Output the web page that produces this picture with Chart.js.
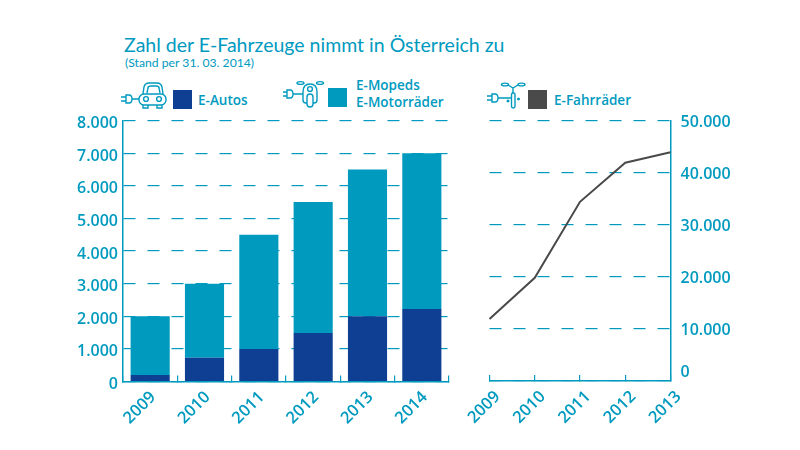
<!DOCTYPE html>
<html>
<head>
<meta charset="utf-8">
<script src="https://cdn.jsdelivr.net/npm/chart.js@4"></script>
<style>
  html, body { margin: 0; padding: 0; background: #fff; }
  body { position: relative; width: 800px; height: 450px; overflow: hidden; font-family: "Open Sans", sans-serif; color: #009abf; }
  canvas { position: absolute; top: 0; }
  .txt { position: absolute; white-space: nowrap; }
  .swatch { position: absolute; width: 19px; height: 18.5px; }
  svg { position: absolute; left: 0; top: 0; fill: none; stroke: #009abf; stroke-width: 1.4; }
</style>
</head>
<body>
<div class="txt" style="left:124px;top:33px;font-family:Lato,sans-serif;font-size:19.5px;">Zahl der E-Fahrzeuge nimmt in Österreich zu</div>
<div class="txt" style="left:125px;top:55px;font-family:Lato,sans-serif;font-size:12.2px;">(Stand per 31. 03. 2014)</div>

<svg width="800" height="130">
  <!-- car -->
  <path d="M121 97h5M121 101h5M126 95h3q3 0 3 4t-3 4h-3zM132 99h7"/>
  <rect x="139" y="94" width="27" height="11" rx="5"/>
  <path d="M143 94l1-7q1-4 5-4h8q4 0 5 4l1 7M147 93l1-5q0-2 3-2h5q3 0 3 2l1 5"/>
  <circle cx="146" cy="99" r="2.4"/><circle cx="159" cy="99" r="2.4"/>
  <path d="M143 105v3h5v-3M157 105v3h5v-3"/>
  <!-- moped -->
  <path d="M283 92h4M283 96h4M287 90h3q3 0 3 4t-3 4h-3zM293 94h10"/>
  <path d="M303 92q0-8 7-8t7 8v8q0 3-3 3h-8q-3 0-3-3z"/>
  <circle cx="310" cy="89" r="2.4"/>
  <rect x="307" y="94" width="6" height="13" rx="3" fill="#fff"/>
  <ellipse cx="300.5" cy="83" rx="3.5" ry="1.4"/><ellipse cx="320" cy="83" rx="3.5" ry="1.4"/>
  <!-- bicycle -->
  <path d="M487 96h5M487 100h5M492 94h3q3 0 3 4t-3 4h-3zM498 98h14"/>
  <ellipse cx="505" cy="84.5" rx="3.5" ry="1.4"/><ellipse cx="521.5" cy="84.5" rx="3.5" ry="1.4"/>
  <path d="M508 85q5 3 5 3t5-3M513 88v5"/>
  <rect x="511.5" y="93" width="3.5" height="15" rx="1.7"/>
  <circle cx="508" cy="101" r="0.8"/><circle cx="518.5" cy="99" r="0.8"/>
</svg>

<div class="swatch" style="left:173px;top:90px;background:#0f3f92"></div>
<div class="txt" style="left:198px;top:91px;font-size:13.5px;font-weight:600;">E-Autos</div>
<div class="swatch" style="left:328px;top:88px;background:#009abf"></div>
<div class="txt" style="left:356px;top:77px;font-size:13.5px;font-weight:600;line-height:17px;">E-Mopeds<br>E-Motorräder</div>
<div class="swatch" style="left:528px;top:90px;background:#4a4a4a"></div>
<div class="txt" style="left:554px;top:91px;font-size:13.5px;font-weight:600;">E-Fahrräder</div>

<canvas id="bars" style="left:0;width:470px;height:450px" width="470" height="450"></canvas>
<canvas id="line" style="left:450px;width:350px;height:450px" width="350" height="450"></canvas>

<script>
const barYears = ['2009', '2010', '2011', '2012', '2013', '2014'];
const eAutos = [200, 725, 1000, 1490, 2000, 2220];
const eMopeds = [1800, 2275, 3500, 4010, 4500, 4780];
const lineYears = ['2009', '2010', '2011', '2012', '2013'];
const eFahrraeder = [11900, 19800, 34400, 41900, 43900];

const teal = '#009abf';
const navy = '#0f3f92';
const grey = '#4a4a4a';
const yFont = { family: '"Open Sans", sans-serif', size: 16, weight: '600' };
const xFont = { family: '"Open Sans", sans-serif', size: 16.5, weight: '600' };

const deNumber = v => String(v).replace(/\B(?=(\d{3})+$)/g, '.');

// x axis keeps exact plot edges, rotated labels may run past them
function fixHeight(h) {
    return s => { s.height = h; s.paddingLeft = 0; s.paddingRight = 0; };
}

new Chart(document.getElementById('bars'), {
    type: 'bar',
    data: {
        labels: barYears,
        datasets: [
            { label: 'E-Autos', data: eAutos, backgroundColor: navy, stack: 'a' },
            { label: 'E-Mopeds E-Motorräder', data: eMopeds, backgroundColor: teal, stack: 'a' }
        ]
    },
    options: {
        responsive: false,
        animation: false,
        layout: { padding: { top: 120.5, right: 21, left: 0, bottom: 0 } },
        plugins: { legend: { display: false }, tooltip: { enabled: false } },
        datasets: { bar: { barPercentage: 0.72, categoryPercentage: 1 } },
        scales: {
            x: {
                stacked: true,
                afterFit: fixHeight(68.5),
                border: { color: teal, width: 1.5 },
                grid: { offset: true, drawOnChartArea: false, color: teal, lineWidth: 1.2, tickLength: -6 },
                ticks: { color: teal, font: xFont, minRotation: 45, maxRotation: 45, padding: 12, labelOffset: 3 }
            },
            y: {
                stacked: true,
                min: 0,
                max: 8000,
                afterFit: s => { s.width = 123; },
                border: { color: teal, width: 1.5, dash: [12, 12] },
                grid: { color: teal, lineWidth: 1.2, drawTicks: false },
                ticks: { color: teal, font: yFont, stepSize: 1000, padding: 5, labelOffset: 3, callback: v => deNumber(v) }
            }
        }
    }
});

new Chart(document.getElementById('line'), {
    type: 'line',
    data: {
        labels: lineYears,
        datasets: [{ label: 'E-Fahrräder', data: eFahrraeder, borderColor: grey, borderWidth: 2, pointRadius: 0, tension: 0 }]
    },
    options: {
        responsive: false,
        animation: false,
        layout: { padding: { top: 120.5, right: 0, left: 39.5, bottom: 0 } },
        plugins: { legend: { display: false }, tooltip: { enabled: false } },
        scales: {
            x: {
                afterFit: fixHeight(69),
                offset: false,
                border: { color: teal, width: 1.5 },
                grid: { drawOnChartArea: false, color: teal, lineWidth: 1.2, tickLength: -6 },
                ticks: { color: teal, font: xFont, minRotation: 45, maxRotation: 45, padding: 12, labelOffset: 8 }
            },
            y: {
                position: 'right',
                min: 0,
                max: 50000,
                afterFit: s => { s.width = 129.5; },
                border: { color: teal, width: 1.5, dash: [12, 12] },
                grid: { color: teal, lineWidth: 1.2, drawTicks: false },
                ticks: {
                    color: teal, font: yFont, stepSize: 10000, padding: 10, labelOffset: 1.5,
                    // the zero label sits higher than its axis line in the original
                    callback: v => v === 0 ? ['0', ''] : deNumber(v)
                }
            }
        }
    }
});
</script>
</body>
</html>
